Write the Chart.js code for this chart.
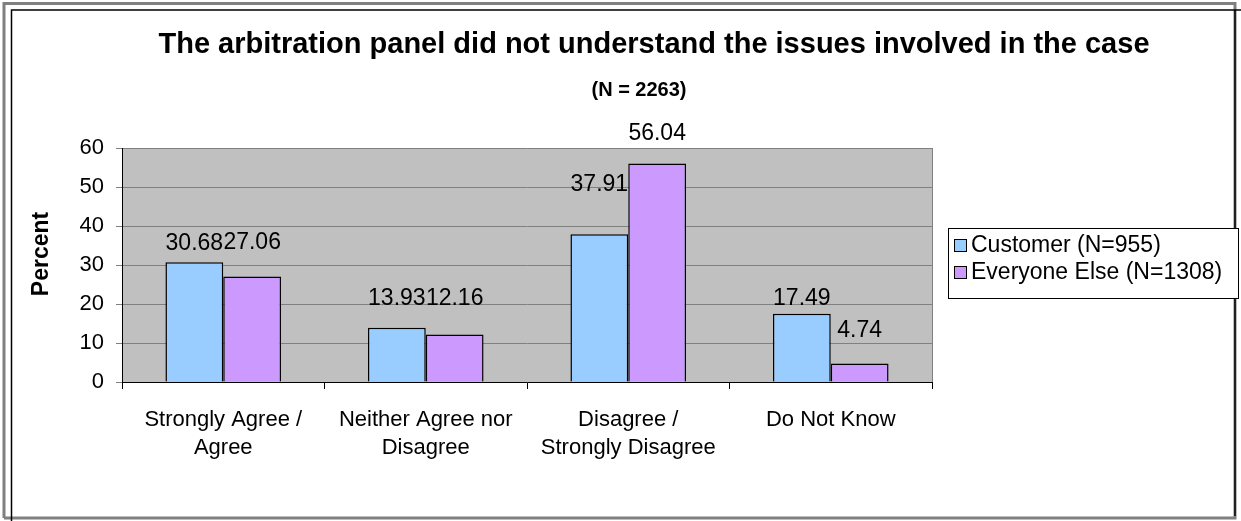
<!DOCTYPE html>
<html lang="en">
<head>
    <meta charset="UTF-8">
    <script src="https://cdnjs.cloudflare.com/ajax/libs/Chart.js/4.4.0/chart.umd.min.js"></script>
    <title>Arbitration panel</title>
    <style>
        html, body { margin: 0; padding: 0; background: #ffffff; }
        canvas { display: block; }
    </style>
</head>
<body>
    <canvas id="myChart" width="1241" height="521"></canvas>

    <script>
        // chart values
        const categories = [
            ['Strongly Agree /', 'Agree'],
            ['Neither Agree nor', 'Disagree'],
            ['Disagree /', 'Strongly Disagree'],
            ['Do Not Know']
        ];
        const seriesNames = ['Customer (N=955)', 'Everyone Else (N=1308)'];
        const customer = [30.68, 13.93, 37.91, 17.49];
        const everyoneElse = [27.06, 12.16, 56.04, 4.74];
        const yTicks = [0, 10, 20, 30, 40, 50, 60];

        const titleText = 'The arbitration panel did not understand the issues involved in the case';
        const subtitleText = '(N = 2263)';
        const yTitle = 'Percent';

        const FONT = '"Liberation Sans", Arial, sans-serif';
        const colors = ['#99CCFF', '#CC99FF'];

        // the value labels sit at uneven heights above the bars in the original
        const labelLift = [
            [19, 29, 49, 15],
            [34, 36, 30, 33]
        ];

        // grey plot background + border, frames, titles, value labels, legend
        const decorations = {
            id: 'decorations',
            beforeDraw(chart) {
                const ctx = chart.ctx;
                const a = chart.chartArea;
                ctx.save();
                ctx.fillStyle = '#C0C0C0';
                ctx.fillRect(a.left, a.top, a.right - a.left, a.bottom - a.top);
                ctx.restore();
            },
            afterDatasetsDraw(chart) {
                const ctx = chart.ctx;
                ctx.save();
                ctx.font = '23px ' + FONT;
                ctx.fillStyle = '#000';
                ctx.textAlign = 'center';
                ctx.textBaseline = 'middle';
                chart.data.datasets.forEach((ds, i) => {
                    chart.getDatasetMeta(i).data.forEach((bar, j) => {
                        ctx.fillText(ds.data[j].toFixed(2), bar.x, bar.y - labelLift[i][j]);
                    });
                });
                ctx.restore();
            },
            afterDraw(chart) {
                const ctx = chart.ctx;
                const a = chart.chartArea;
                ctx.save();

                // right edge of plot
                ctx.strokeStyle = '#808080';
                ctx.lineWidth = 1;
                ctx.beginPath();
                ctx.moveTo(a.right + 0.5, a.top);
                ctx.lineTo(a.right + 0.5, a.bottom);
                ctx.stroke();

                // outer grey frame
                ctx.strokeStyle = '#808080';
                ctx.lineWidth = 3;
                ctx.beginPath();
                ctx.moveTo(4, 518);
                ctx.lineTo(4, 3.5);
                ctx.lineTo(1235, 3.5);
                ctx.lineTo(1235, 518);
                ctx.lineTo(4, 518);
                ctx.stroke();

                // inner black frame
                ctx.strokeStyle = '#000';
                ctx.lineWidth = 1.5;
                ctx.beginPath();
                ctx.moveTo(11.5, 521);
                ctx.lineTo(11.5, 10);
                ctx.lineTo(1241, 10);
                ctx.moveTo(1235, 10);
                ctx.lineTo(1235, 516);
                ctx.stroke();

                // titles
                ctx.fillStyle = '#000';
                ctx.textAlign = 'center';
                ctx.textBaseline = 'middle';
                ctx.font = 'bold 29px ' + FONT;
                ctx.fillText(titleText, 654, 45);
                ctx.font = 'bold 20px ' + FONT;
                ctx.fillText(subtitleText, 639, 90);

                ctx.save();
                ctx.translate(42, 254);
                ctx.rotate(-Math.PI / 2);
                ctx.font = 'bold 23px ' + FONT;
                ctx.fillText(yTitle, 0, 0);
                ctx.restore();

                // legend
                ctx.strokeStyle = '#000';
                ctx.lineWidth = 1;
                ctx.fillStyle = '#fff';
                ctx.fillRect(948.5, 228.5, 290, 70);
                ctx.strokeRect(948.5, 228.5, 290, 70);
                ctx.font = '23px ' + FONT;
                ctx.textAlign = 'left';
                chart.data.datasets.forEach((ds, i) => {
                    const y = 246 + i * 27;
                    ctx.fillStyle = ds.backgroundColor;
                    ctx.fillRect(954.5, y - 6.5, 12, 12);
                    ctx.strokeRect(954.5, y - 6.5, 12, 12);
                    ctx.fillStyle = '#000';
                    ctx.fillText(ds.label, 971, y);
                });
                ctx.restore();
            }
        };

        const data = {
            labels: categories,
            datasets: [
                {
                    label: seriesNames[0],
                    data: customer,
                    backgroundColor: colors[0],
                    borderColor: '#000',
                    borderWidth: 1.5
                },
                {
                    label: seriesNames[1],
                    data: everyoneElse,
                    backgroundColor: colors[1],
                    borderColor: '#000',
                    borderWidth: 1.5
                }
            ]
        };

        const options = {
            responsive: false,
            animation: false,
            devicePixelRatio: 1,
            layout: {
                padding: { top: 148, right: 309, bottom: 0, left: 0 }
            },
            datasets: {
                bar: { categoryPercentage: 0.571, barPercentage: 1 }
            },
            scales: {
                x: {
                    offset: true,
                    grid: {
                        offset: true,
                        drawOnChartArea: false,
                        drawTicks: true,
                        tickLength: 7,
                        color: '#000'
                    },
                    border: { color: '#000', width: 1 },
                    ticks: {
                        color: '#000',
                        font: { family: FONT, size: 22, lineHeight: 1.27 },
                        padding: 17,
                        maxRotation: 0,
                        autoSkip: false
                    },
                    afterFit(scale) { scale.height = 139; }
                },
                y: {
                    min: 0,
                    max: 60,
                    afterBuildTicks(scale) {
                        scale.ticks = yTicks.map(v => ({ value: v }));
                    },
                    grid: {
                        color: '#808080',
                        tickLength: 6
                    },
                    border: { color: '#000', width: 1 },
                    ticks: {
                        color: '#000',
                        font: { family: FONT, size: 22 },
                        padding: 12
                    },
                    afterFit(scale) { scale.width = 122; }
                }
            },
            plugins: {
                legend: { display: false },
                title: { display: false },
                tooltip: { enabled: false }
            }
        };

        const myChart = new Chart(document.getElementById('myChart'), {
            type: 'bar',
            data: data,
            options: options,
            plugins: [decorations]
        });
    </script>
</body>
</html>
